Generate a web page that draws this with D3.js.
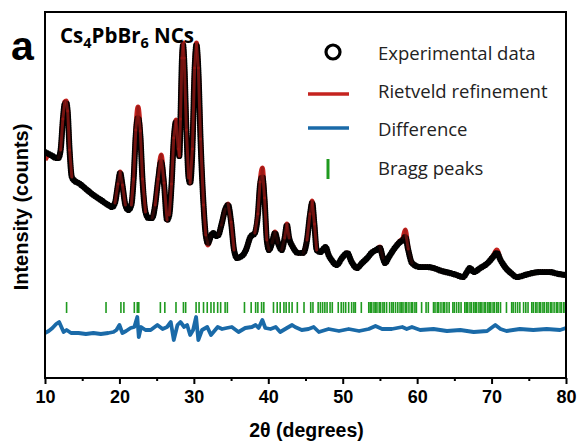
<!DOCTYPE html>
<html>
<head>
<meta charset="utf-8">
<script src="https://cdn.jsdelivr.net/npm/d3@7"></script>
<style>
  body { margin: 0; background: #fff; }
  svg { display: block; }
</style>
</head>
<body>
<script>
// 2θ positions (degrees) of the observed / calculated profile
const angles = [10.0,10.5,11.0,11.5,11.8,12.1,12.4,12.65,12.85,13.05,13.3,13.6,14.0,14.5,15.5,16.5,17.5,18.5,19.0,19.4,19.8,20.1,20.4,20.8,21.2,21.6,21.9,22.2,22.5,22.8,23.1,23.5,23.9,24.4,24.8,25.2,25.6,26.0,26.4,26.7,27.0,27.3,27.6,27.9,28.05,28.2,28.4,28.55,28.7,29.0,29.3,29.5,29.8,30.1,30.35,30.6,30.9,31.3,31.6,31.9,32.3,32.6,33.0,33.3,33.7,34.2,34.6,35.0,35.4,35.8,36.2,36.6,37.0,37.6,38.2,38.6,38.9,39.2,39.5,39.8,40.1,40.5,40.9,41.3,41.8,42.2,42.5,42.8,43.3,44.0,44.7,45.2,45.6,45.9,46.2,46.5,47.0,47.7,48.1,48.5,49.2,49.9,50.6,51.2,51.9,52.6,53.3,54.0,54.5,55.0,55.4,55.7,56.2,57.1,57.7,58.1,58.4,58.8,59.3,60.4,61.3,62.2,63.3,64.4,65.3,66.2,66.7,67.1,67.6,68.5,69.5,70.2,70.7,71.2,71.8,72.6,73.4,74.5,75.5,76.5,77.8,79.0,80.0];

// Observed intensity (counts)
const experimental = [2260,2240,2220,2200,2200,2280,2580,2740,2750,2660,2280,2010,1970,1950,1890,1830,1780,1730,1710,1750,1930,2050,1930,1730,1680,1730,1980,2430,2600,2430,1980,1660,1600,1600,1730,1980,2160,1930,1580,1630,1930,2380,2560,2280,2220,2580,3180,3330,3180,2480,2000,1950,2280,3080,3330,3080,2380,1730,1430,1350,1420,1450,1420,1430,1530,1680,1730,1560,1280,1200,1210,1230,1280,1410,1450,1630,1930,2010,1780,1380,1280,1350,1450,1350,1280,1400,1530,1400,1310,1250,1250,1380,1630,1750,1530,1280,1260,1310,1230,1180,1130,1200,1250,1160,1100,1150,1200,1260,1280,1300,1200,1150,1210,1310,1360,1380,1410,1280,1150,1110,1110,1100,1070,1050,1030,1010,1060,1100,1060,1100,1150,1210,1250,1180,1110,1050,1010,1030,1050,1060,1060,1040,1030];

// Rietveld-calculated intensity (counts)
const refinement = [2180,2230,2220,2200,2200,2280,2590,2760,2770,2670,2280,2010,1970,1950,1890,1830,1780,1730,1710,1750,1940,2060,1930,1730,1680,1730,1990,2480,2710,2470,1990,1660,1600,1600,1730,1990,2230,1950,1580,1630,1940,2400,2580,2290,2220,2590,3200,3350,3200,2480,2000,1950,2290,3100,3350,3100,2390,1730,1430,1330,1420,1450,1420,1430,1530,1690,1740,1560,1280,1200,1210,1230,1280,1410,1450,1640,1960,2100,1800,1380,1280,1350,1460,1350,1280,1400,1540,1400,1310,1250,1250,1380,1640,1770,1540,1280,1260,1310,1230,1180,1130,1200,1250,1160,1100,1150,1200,1260,1280,1310,1200,1150,1210,1310,1370,1400,1480,1290,1150,1110,1110,1100,1070,1050,1030,1010,1060,1100,1060,1100,1150,1220,1280,1180,1110,1050,1010,1030,1050,1060,1060,1040,1030];

// Difference curve (offset), sampled at its own angles
const diffAngles = [10.0,10.5,11.0,11.5,11.9,12.2,12.5,12.9,13.5,14.5,15.5,16.5,17.5,18.5,19.2,19.6,20.0,20.4,20.9,21.5,22.0,22.4,22.6,22.9,23.5,24.2,25.1,25.8,26.4,26.9,27.3,27.8,28.2,28.7,29.1,29.5,29.9,30.3,30.6,31.1,31.8,32.3,33.2,33.8,34.4,35.1,36.0,36.9,37.8,38.3,38.7,39.2,39.6,40.3,41.0,41.6,42.5,43.2,43.6,44.5,45.4,46.1,46.8,48.1,49.5,50.8,52.2,53.5,54.4,55.3,56.6,58.0,58.6,59.3,60.4,62.2,64.0,65.8,67.6,69.4,70.5,71.2,72.0,73.8,75.6,77.4,79.2,80.0];
const difference = [450,470,500,540,560,510,460,480,450,450,440,450,440,450,460,480,530,450,470,500,510,610,410,510,480,480,530,490,510,560,380,530,560,510,530,430,480,610,380,480,510,430,510,490,500,510,460,500,510,530,500,580,500,490,510,460,500,530,510,480,490,510,460,490,470,490,470,490,520,490,490,510,490,510,480,490,470,480,460,470,530,490,470,490,480,490,480,500];

// Calculated Bragg reflection positions (degrees)
const braggPositions = [12.9,18.2,20.2,20.6,22.0,22.4,22.6,25.5,26.1,27.6,28.6,28.9,30.3,30.7,31.3,31.8,32.3,32.7,33.2,33.6,34.2,34.5,36.8,37.7,38.3,38.6,39.1,39.4,40.7,41.2,41.6,42.1,42.4,42.8,43.2,43.9,44.8,45.7,46.0,46.7,47.0,47.3,47.6,47.9,48.3,48.6,49.4,49.8,50.1,50.4,50.8,51.2,51.5,51.7,52.5,53.5,53.7,53.9,54.2,54.4,54.6,54.9,55.1,55.4,55.6,55.9,56.3,56.6,56.8,57.1,57.4,57.7,57.9,58.1,58.4,58.6,58.9,59.2,59.4,59.7,59.9,60.6,61.2,61.5,62.2,62.4,62.7,62.9,63.2,63.5,63.7,64.0,64.3,64.8,65.0,65.3,65.6,65.9,66.4,66.6,66.8,67.1,67.3,67.6,67.8,68.0,68.3,68.5,68.7,69.0,69.2,69.5,69.7,69.9,70.2,70.4,70.7,70.9,71.2,72.0,72.7,72.9,73.2,73.5,73.8,74.3,74.6,74.9,75.4,75.6,75.9,76.1,76.4,76.6,76.9,77.1,77.4,77.6,77.9,78.1,78.4,78.7,78.9,79.2,79.4,79.7,79.9];

const xMajorTicks = [10,20,30,40,50,60,70,80];
const xMinorTicks = [15,25,35,45,55,65,75];

const legendLabels = ["Experimental data","Rietveld refinement","Difference","Bragg peaks"];

// ---------------------------------------------------------------
const W = 578, H = 444;
const plot = { left: 45, right: 566, top: 12, bottom: 378 };
const RED = "#c5231f", BLUE = "#1a6aa8", GREEN = "#1f9a1f";

const svg = d3.select("body").append("svg")
  .attr("width", W).attr("height", H)
  .attr("viewBox", `0 0 ${W} ${H}`);

const x = d3.scaleLinear().domain([10, 80]).range([plot.left, plot.right]);
const y = d3.scaleLinear().domain([0, 3660]).range([plot.bottom, plot.top]);

svg.append("defs").append("clipPath").attr("id", "plotClip")
  .append("rect")
  .attr("x", plot.left).attr("y", plot.top)
  .attr("width", plot.right - plot.left).attr("height", plot.bottom - plot.top);

const g = svg.append("g").attr("clip-path", "url(#plotClip)");

const profile = d3.line().curve(d3.curveMonotoneX);
const obsPts = angles.map((a, i) => [x(a), y(experimental[i])]);
const calcPts = angles.map((a, i) => [x(a), y(refinement[i])]);

// Rietveld calculated profile (underneath)
g.append("path")
  .attr("d", profile(calcPts))
  .attr("fill", "none")
  .attr("stroke", RED)
  .attr("stroke-width", 5)
  .attr("stroke-linejoin", "round");

// Observed profile, drawn as a dense chain of markers
g.append("path")
  .attr("d", profile(obsPts))
  .attr("fill", "none")
  .attr("stroke", "#000")
  .attr("stroke-width", 6.2)
  .attr("stroke-linecap", "round")
  .attr("stroke-linejoin", "round")
  .attr("stroke-dasharray", "0 2.2");

// On steep flanks the open markers spread apart and the fit shows through
const steepSegs = d3.pairs(calcPts).map(([p, q]) => {
  const slope = Math.abs(q[1] - p[1]) / Math.max(0.5, Math.abs(q[0] - p[0]));
  return { p, q, a: Math.max(0, Math.min(0.75, (slope - 2.5) / 6)) };
}).filter(s => s.a > 0);
g.append("g").selectAll("line").data(steepSegs).join("line")
  .attr("x1", s => s.p[0]).attr("y1", s => s.p[1])
  .attr("x2", s => s.q[0]).attr("y2", s => s.q[1])
  .attr("stroke", "#9a1a16")
  .attr("stroke-opacity", s => s.a)
  .attr("stroke-width", 3)
  .attr("stroke-linecap", "round");

// Difference curve
g.append("path")
  .attr("d", d3.line()(diffAngles.map((a, i) => [x(a), y(difference[i])])))
  .attr("fill", "none")
  .attr("stroke", BLUE)
  .attr("stroke-width", 3.8)
  .attr("stroke-linejoin", "round");

// Bragg reflection markers
const braggTop = 760, braggBottom = 650;
g.append("g").selectAll("line").data(braggPositions).join("line")
  .attr("x1", d => x(d)).attr("x2", d => x(d))
  .attr("y1", y(braggTop)).attr("y2", y(braggBottom))
  .attr("stroke", GREEN)
  .attr("stroke-width", 1.6);

// Frame
svg.append("rect")
  .attr("x", plot.left).attr("y", plot.top)
  .attr("width", plot.right - plot.left).attr("height", plot.bottom - plot.top)
  .attr("fill", "none").attr("stroke", "#000").attr("stroke-width", 2);

// Bottom axis
const axisMajor = svg.append("g")
  .attr("transform", `translate(0,${plot.bottom})`)
  .call(d3.axisBottom(x).tickValues(xMajorTicks).tickSize(6).tickPadding(6).tickFormat(d3.format("d")));
axisMajor.select(".domain").remove();
axisMajor.selectAll(".tick line").attr("stroke", "#000").attr("stroke-width", 2);
axisMajor.selectAll(".tick text")
  .attr("fill", "#000")
  .style("font-family", "'Liberation Sans', Arial, sans-serif")
  .style("font-weight", "bold")
  .style("font-size", "18px");

const axisMinor = svg.append("g")
  .attr("transform", `translate(0,${plot.bottom})`)
  .call(d3.axisBottom(x).tickValues(xMinorTicks).tickSize(3).tickFormat(""));
axisMinor.select(".domain").remove();
axisMinor.selectAll(".tick line").attr("stroke", "#000").attr("stroke-width", 2);

// Axis titles
svg.append("text")
  .attr("x", (plot.left + plot.right) / 2 + 1).attr("y", 437)
  .attr("text-anchor", "middle")
  .style("font-family", "'Liberation Sans', Arial, sans-serif")
  .style("font-weight", "bold").style("font-size", "19.5px")
  .text("2θ (degrees)");

svg.append("text")
  .attr("transform", `translate(28,${(plot.top + plot.bottom) / 2 + 12}) rotate(-90)`)
  .attr("text-anchor", "middle")
  .style("font-family", "'Liberation Sans', Arial, sans-serif")
  .style("font-weight", "bold").style("font-size", "20px")
  .text("Intensity (counts)");

// Panel letter
svg.append("text")
  .attr("x", 11).attr("y", 60)
  .style("font-family", "'Liberation Sans', Arial, sans-serif")
  .style("font-weight", "bold").style("font-size", "41px")
  .text("a");

// Sample label with subscripts
const title = svg.append("text")
  .attr("x", 60).attr("y", 43)
  .style("font-family", "'Open Sans', Lato, sans-serif")
  .style("font-weight", "bold").style("font-size", "20.5px")
  .attr("fill", "#000");
title.append("tspan").text("Cs");
title.append("tspan").attr("dy", 5).style("font-size", "14.5px").text("4");
title.append("tspan").attr("dy", -5).text("PbBr");
title.append("tspan").attr("dy", 5).style("font-size", "14.5px").text("6");
title.append("tspan").attr("dy", -5).text(" NCs");

// Legend
const legend = svg.append("g");
const rowY = [52, 90, 128, 167];
const textX = 378;
legendLabels.forEach((label, i) => {
  legend.append("text")
    .attr("x", textX).attr("y", rowY[i])
    .attr("dominant-baseline", "central")
    .style("font-family", "'Open Sans', Lato, sans-serif")
    .style("font-size", "18.5px")
    .attr("fill", "#222")
    .text(label);
});
legend.append("circle")
  .attr("cx", 333).attr("cy", rowY[0]).attr("r", 7)
  .attr("fill", "none").attr("stroke", "#000").attr("stroke-width", 3.2);
legend.append("line")
  .attr("x1", 308).attr("x2", 349).attr("y1", rowY[1] + 4).attr("y2", rowY[1] + 4)
  .attr("stroke", RED).attr("stroke-width", 3.5);
legend.append("line")
  .attr("x1", 308).attr("x2", 349).attr("y1", rowY[2]).attr("y2", rowY[2])
  .attr("stroke", BLUE).attr("stroke-width", 3.5);
legend.append("line")
  .attr("x1", 328).attr("x2", 328).attr("y1", rowY[3] - 8).attr("y2", rowY[3] + 12)
  .attr("stroke", GREEN).attr("stroke-width", 3);
</script>
</body>
</html>
